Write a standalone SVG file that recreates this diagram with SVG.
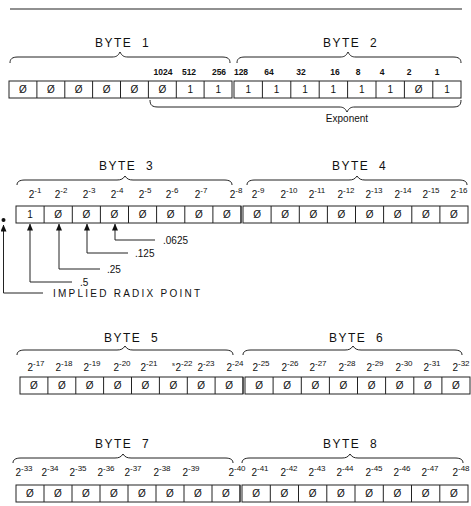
<svg xmlns="http://www.w3.org/2000/svg" width="471" height="506" viewBox="0 0 471 506">
<style>
text{font-family:"Liberation Sans",Arial,sans-serif;fill:#111}
.bt{font-size:12px;letter-spacing:1.5px}
.d{font-size:10px;text-anchor:middle}
.w{font-size:8.5px;font-weight:bold;text-anchor:middle}
.e{font-size:10px;text-anchor:middle}
.e tspan{font-size:8px}
.lb{font-size:10px}
.box{fill:#fff;stroke:#222;stroke-width:1}
.dv{stroke:#222;stroke-width:1}
.br{fill:none;stroke:#222;stroke-width:1}
.ln{fill:none;stroke:#222;stroke-width:1}
</style>
<defs>
<marker id="ah" markerWidth="7" markerHeight="6" refX="6.5" refY="3" orient="auto" markerUnits="userSpaceOnUse" viewBox="0 0 7 6">
<path d="M0,0 L7,3 L0,6 Z" fill="#111"/>
</marker>
</defs>
<line x1="10" y1="9" x2="462" y2="9" stroke="#222" stroke-width="1.2"/>

<g id="byte1">
<text class="bt" x="95" y="47" xml:space="preserve">BYTE  1</text>
<path class="br" d="M10,63 C10,59 12,57 18,57 L112,57 C116,57 118,56 120,52 C122,56 124,57 128,57 L222,57 C228,57 230,59 230,63"/>
<text class="w" x="163" y="75">1024</text><text class="w" x="189" y="75">512</text><text class="w" x="219" y="75">256</text>
<rect class="box" x="9" y="81" width="223" height="17"/>
<path class="dv" d="M36.9,81V98M64.8,81V98M92.6,81V98M120.5,81V98M148.4,81V98M176.3,81V98M204.1,81V98"/>
<text class="d" x="22.9" y="93">Ø</text><text class="d" x="50.8" y="93">Ø</text><text class="d" x="78.7" y="93">Ø</text><text class="d" x="106.6" y="93">Ø</text><text class="d" x="134.5" y="93">Ø</text><text class="d" x="162.4" y="93">Ø</text><text class="d" x="190.3" y="93">1</text><text class="d" x="218.2" y="93">1</text>
</g>
<g id="byte2">
<text class="bt" x="323" y="47" xml:space="preserve">BYTE  2</text>
<path class="br" d="M237,63 C237,59 239,57 245,57 L340,57 C344,57 346,56 348,52 C350,56 352,57 356,57 L453,57 C459,57 461,59 461,63"/>
<text class="w" x="241" y="75">128</text><text class="w" x="269" y="75">64</text><text class="w" x="301" y="75">32</text><text class="w" x="335" y="75">16</text><text class="w" x="358" y="75">8</text><text class="w" x="382" y="75">4</text><text class="w" x="409" y="75">2</text><text class="w" x="437" y="75">1</text>
<rect class="box" x="234" y="81" width="227" height="17"/>
<path class="dv" d="M262.4,81V98M290.8,81V98M319.2,81V98M347.6,81V98M376,81V98M404.4,81V98M432.8,81V98"/>
<text class="d" x="248.2" y="93">1</text><text class="d" x="276.6" y="93">1</text><text class="d" x="305" y="93">1</text><text class="d" x="333.4" y="93">1</text><text class="d" x="361.8" y="93">1</text><text class="d" x="390.2" y="93">1</text><text class="d" x="418.6" y="93">Ø</text><text class="d" x="447" y="93">1</text>
</g>
<g id="exponent">
<path class="br" d="M150,100 C150,105 152,107 158,107 L339,107 C343,107 345,108 347,112 C349,108 351,107 355,107 L453,107 C459,107 461,105 461,100"/>
<text class="lb" x="347" y="122" text-anchor="middle">Exponent</text>
</g>

<g id="byte3">
<text class="bt" x="99" y="170" xml:space="preserve">BYTE  3</text>
<path class="br" d="M17,185 C17,182 19,180 25,180 L117,180 C121,180 123,179 125,176 C127,179 129,180 133,180 L224,180 C230,180 232,182 232,185"/>
<text class="e" x="35" y="198">2<tspan dy="-5">-1</tspan></text><text class="e" x="61" y="198">2<tspan dy="-5">-2</tspan></text><text class="e" x="89" y="198">2<tspan dy="-5">-3</tspan></text><text class="e" x="117" y="198">2<tspan dy="-5">-4</tspan></text><text class="e" x="145" y="198">2<tspan dy="-5">-5</tspan></text><text class="e" x="172" y="198">2<tspan dy="-5">-6</tspan></text><text class="e" x="201" y="198">2<tspan dy="-5">-7</tspan></text><text class="e" x="236" y="198">2<tspan dy="-5">-8</tspan></text>
<rect class="box" x="16" y="206" width="225" height="17"/>
<path class="dv" d="M44.1,206V223M72.3,206V223M100.4,206V223M128.5,206V223M156.6,206V223M184.8,206V223M212.9,206V223"/>
<text class="d" x="30.1" y="218">1</text><text class="d" x="58.2" y="218">Ø</text><text class="d" x="86.3" y="218">Ø</text><text class="d" x="114.4" y="218">Ø</text><text class="d" x="142.6" y="218">Ø</text><text class="d" x="170.7" y="218">Ø</text><text class="d" x="198.8" y="218">Ø</text><text class="d" x="226.9" y="218">Ø</text>
</g>
<g id="byte4">
<text class="bt" x="332" y="170" xml:space="preserve">BYTE  4</text>
<path class="br" d="M247,185 C247,182 249,180 255,180 L349,180 C353,180 355,179 357,176 C359,179 361,180 365,180 L459,180 C465,180 467,182 467,185"/>
<text class="e" x="258" y="198">2<tspan dy="-5">-9</tspan></text><text class="e" x="289" y="198">2<tspan dy="-5">-10</tspan></text><text class="e" x="317" y="198">2<tspan dy="-5">-11</tspan></text><text class="e" x="346" y="198">2<tspan dy="-5">-12</tspan></text><text class="e" x="374" y="198">2<tspan dy="-5">-13</tspan></text><text class="e" x="403" y="198">2<tspan dy="-5">-14</tspan></text><text class="e" x="431" y="198">2<tspan dy="-5">-15</tspan></text><text class="e" x="459" y="198">2<tspan dy="-5">-16</tspan></text>
<rect class="box" x="243" y="206" width="225" height="17"/>
<path class="dv" d="M241,206V223M271.1,206V223M299.3,206V223M327.4,206V223M355.5,206V223M383.6,206V223M411.8,206V223M439.9,206V223"/>
<text class="d" x="257.1" y="218">Ø</text><text class="d" x="285.2" y="218">Ø</text><text class="d" x="313.3" y="218">Ø</text><text class="d" x="341.4" y="218">Ø</text><text class="d" x="369.6" y="218">Ø</text><text class="d" x="397.7" y="218">Ø</text><text class="d" x="425.8" y="218">Ø</text><text class="d" x="453.9" y="218">Ø</text>
</g>

<g id="connectors">
<path class="ln" d="M155,240 H115 V224" marker-end="url(#ah)"/>
<path class="ln" d="M128,253 H87 V224" marker-end="url(#ah)"/>
<path class="ln" d="M100,269 H59 V224" marker-end="url(#ah)"/>
<path class="ln" d="M72,282 H30 V224" marker-end="url(#ah)"/>
<path class="ln" d="M43,293 H3.5 V225" marker-end="url(#ah)"/>
</g>
<g id="radix-labels">
<circle cx="3.5" cy="220" r="2" fill="#111"/>
<text class="lb" x="163" y="244">.0625</text>
<text class="lb" x="135" y="257">.125</text>
<text class="lb" x="107" y="273">.25</text>
<text class="lb" x="80" y="286">.5</text>
<text class="lb" x="53" y="297" textLength="147" lengthAdjust="spacing">IMPLIED RADIX POINT</text>
</g>

<g id="byte5">
<text class="bt" x="104" y="342" xml:space="preserve">BYTE  5</text>
<path class="br" d="M17,355 C17,352 19,350 25,350 L117,350 C121,350 123,349 125,346 C127,349 129,350 133,350 L225,350 C231,350 233,352 233,355"/>
<text class="e" x="36" y="371">2<tspan dy="-5">-17</tspan></text><text class="e" x="64" y="371">2<tspan dy="-5">-18</tspan></text><text class="e" x="92" y="371">2<tspan dy="-5">-19</tspan></text><text class="e" x="122" y="371">2<tspan dy="-5">-20</tspan></text><text class="e" x="149" y="371">2<tspan dy="-5">-21</tspan></text>
<text x="172" y="366" style="font-size:6px">s</text>
<text class="e" x="184" y="371">2<tspan dy="-5">-22</tspan></text><text class="e" x="206" y="371">2<tspan dy="-5">-23</tspan></text><text class="e" x="235" y="371">2<tspan dy="-5">-24</tspan></text>
<rect class="box" x="20" y="377" width="223" height="17"/>
<path class="dv" d="M47.9,377V394M75.8,377V394M103.6,377V394M131.5,377V394M159.4,377V394M187.3,377V394M215.1,377V394"/>
<text class="d" x="33.9" y="389">Ø</text><text class="d" x="61.8" y="389">Ø</text><text class="d" x="89.7" y="389">Ø</text><text class="d" x="117.6" y="389">Ø</text><text class="d" x="145.4" y="389">Ø</text><text class="d" x="173.3" y="389">Ø</text><text class="d" x="201.2" y="389">Ø</text><text class="d" x="229.1" y="389">Ø</text>
</g>
<g id="byte6">
<text class="bt" x="329" y="342" xml:space="preserve">BYTE  6</text>
<path class="br" d="M243,355 C243,352 245,350 251,350 L345,350 C349,350 351,349 353,346 C355,349 357,350 361,350 L454,350 C460,350 462,352 462,355"/>
<text class="e" x="261" y="371">2<tspan dy="-5">-25</tspan></text><text class="e" x="290" y="371">2<tspan dy="-5">-26</tspan></text><text class="e" x="318" y="371">2<tspan dy="-5">-27</tspan></text><text class="e" x="347" y="371">2<tspan dy="-5">-28</tspan></text><text class="e" x="375" y="371">2<tspan dy="-5">-29</tspan></text><text class="e" x="404" y="371">2<tspan dy="-5">-30</tspan></text><text class="e" x="432" y="371">2<tspan dy="-5">-31</tspan></text><text class="e" x="461" y="371">2<tspan dy="-5">-32</tspan></text>
<rect class="box" x="245" y="377" width="225" height="17"/>
<path class="dv" d="M243,377V394M273.1,377V394M301.3,377V394M329.4,377V394M357.5,377V394M385.6,377V394M413.8,377V394M441.9,377V394"/>
<text class="d" x="259.1" y="389">Ø</text><text class="d" x="287.2" y="389">Ø</text><text class="d" x="315.3" y="389">Ø</text><text class="d" x="343.4" y="389">Ø</text><text class="d" x="371.6" y="389">Ø</text><text class="d" x="399.7" y="389">Ø</text><text class="d" x="427.8" y="389">Ø</text><text class="d" x="455.9" y="389">Ø</text>
</g>

<g id="byte7">
<text class="bt" x="95" y="448" xml:space="preserve">BYTE  7</text>
<path class="br" d="M13,463 C13,460 15,458 21,458 L115,458 C119,458 121,457 123,454 C125,457 127,458 131,458 L225,458 C231,458 233,460 233,463"/>
<text class="e" x="24" y="476">2<tspan dy="-5">-33</tspan></text><text class="e" x="50" y="476">2<tspan dy="-5">-34</tspan></text><text class="e" x="78" y="476">2<tspan dy="-5">-35</tspan></text><text class="e" x="106" y="476">2<tspan dy="-5">-36</tspan></text><text class="e" x="133" y="476">2<tspan dy="-5">-37</tspan></text><text class="e" x="162" y="476">2<tspan dy="-5">-38</tspan></text><text class="e" x="191" y="476">2<tspan dy="-5">-39</tspan></text><text class="e" x="237" y="476">2<tspan dy="-5">-40</tspan></text>
<rect class="box" x="16" y="485" width="224" height="17"/>
<path class="dv" d="M44,485V502M72,485V502M100,485V502M128,485V502M156,485V502M184,485V502M212,485V502"/>
<text class="d" x="30" y="497">Ø</text><text class="d" x="58" y="497">Ø</text><text class="d" x="86" y="497">Ø</text><text class="d" x="114" y="497">Ø</text><text class="d" x="142" y="497">Ø</text><text class="d" x="170" y="497">Ø</text><text class="d" x="198" y="497">Ø</text><text class="d" x="226" y="497">Ø</text>
</g>
<g id="byte8">
<text class="bt" x="323" y="448" xml:space="preserve">BYTE  8</text>
<path class="br" d="M242,463 C242,460 244,458 250,458 L342,458 C346,458 348,457 350,454 C352,457 354,458 358,458 L455,458 C461,458 463,460 463,463"/>
<text class="e" x="260" y="476">2<tspan dy="-5">-41</tspan></text><text class="e" x="289" y="476">2<tspan dy="-5">-42</tspan></text><text class="e" x="317" y="476">2<tspan dy="-5">-43</tspan></text><text class="e" x="345" y="476">2<tspan dy="-5">-44</tspan></text><text class="e" x="374" y="476">2<tspan dy="-5">-45</tspan></text><text class="e" x="402" y="476">2<tspan dy="-5">-46</tspan></text><text class="e" x="430" y="476">2<tspan dy="-5">-47</tspan></text><text class="e" x="461" y="476">2<tspan dy="-5">-48</tspan></text>
<rect class="box" x="242" y="485" width="226" height="17"/>
<path class="dv" d="M240,485V502M270.3,485V502M298.5,485V502M326.8,485V502M355,485V502M383.3,485V502M411.5,485V502M439.8,485V502"/>
<text class="d" x="256.1" y="497">Ø</text><text class="d" x="284.4" y="497">Ø</text><text class="d" x="312.6" y="497">Ø</text><text class="d" x="340.9" y="497">Ø</text><text class="d" x="369.1" y="497">Ø</text><text class="d" x="397.4" y="497">Ø</text><text class="d" x="425.6" y="497">Ø</text><text class="d" x="453.9" y="497">Ø</text>
</g>
</svg>
